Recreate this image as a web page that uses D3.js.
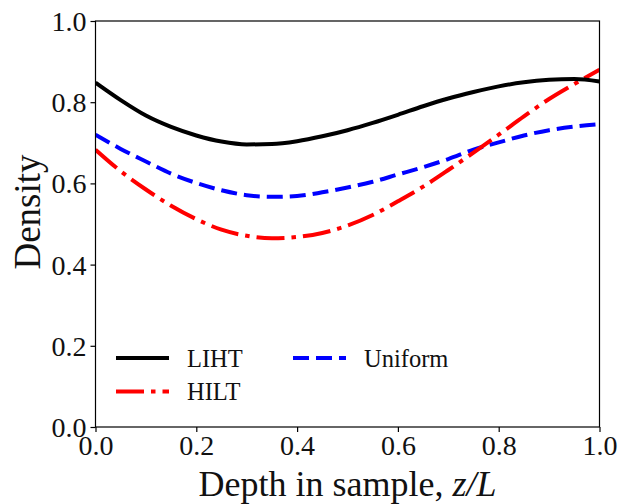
<!DOCTYPE html>
<html>
<head>
<meta charset="utf-8">
<script src="https://cdn.jsdelivr.net/npm/d3@7"></script>
<style>
  html, body { margin: 0; padding: 0; background: #fff; }
  svg { display: block; }
  text { font-family: "Liberation Serif", "Times New Roman", serif; fill: #111; }
</style>
</head>
<body>
<svg id="chart" width="618" height="504"></svg>
<script>
// Depth positions z/L at which densities are sampled
const depth = [0, 0.05, 0.1, 0.15, 0.2, 0.25, 0.3, 0.35, 0.4, 0.45, 0.5,
               0.55, 0.6, 0.65, 0.7, 0.75, 0.8, 0.85, 0.9, 0.95, 1.0];
const lihtVals    = [0.848, 0.805, 0.767, 0.739, 0.718, 0.703, 0.696, 0.697, 0.704, 0.716, 0.731,
                     0.749, 0.769, 0.790, 0.809, 0.825, 0.839, 0.849, 0.855, 0.857, 0.851];
const hiltVals    = [0.683, 0.630, 0.585, 0.545, 0.512, 0.486, 0.471, 0.465, 0.468, 0.478, 0.496,
                     0.522, 0.556, 0.592, 0.633, 0.676, 0.720, 0.765, 0.808, 0.845, 0.880];
const uniformVals = [0.720, 0.685, 0.654, 0.624, 0.601, 0.583, 0.571, 0.567, 0.569, 0.578, 0.590,
                     0.604, 0.622, 0.640, 0.660, 0.683, 0.701, 0.718, 0.731, 0.740, 0.746];
const xTicks = [0, 0.2, 0.4, 0.6, 0.8, 1.0];
const yTicks = [0, 0.2, 0.4, 0.6, 0.8, 1.0];

const svg = d3.select("#chart");
const margin = { left: 95.5, right: 599.5, top: 21, bottom: 427 };

const x = d3.scaleLinear().domain([0, 1]).range([margin.left, margin.right]);
const y = d3.scaleLinear().domain([0, 1]).range([margin.bottom, margin.top]);

const styles = {
  LIHT:    { color: "#000000", dash: null },
  HILT:    { color: "#ff0000", dash: "28,7,4.5,7" },
  Uniform: { color: "#0000ff", dash: "16,7" }
};
const seriesData = { LIHT: lihtVals, HILT: hiltVals, Uniform: uniformVals };

// clip curves to the plotting area
svg.append("defs").append("clipPath").attr("id", "plotClip")
  .append("rect")
  .attr("x", margin.left).attr("y", margin.top)
  .attr("width", margin.right - margin.left).attr("height", margin.bottom - margin.top);

const line = d3.line()
  .x(d => x(d[0]))
  .y(d => y(d[1]))
  .curve(d3.curveMonotoneX);

const plot = svg.append("g").attr("clip-path", "url(#plotClip)");
["Uniform", "HILT", "LIHT"].forEach(name => {
  const pts = depth.map((z, i) => [z, seriesData[name][i]]);
  plot.append("path")
    .datum(pts)
    .attr("d", line)
    .attr("fill", "none")
    .attr("stroke", styles[name].color)
    .attr("stroke-width", 4)
    .attr("stroke-dasharray", styles[name].dash)
    .attr("stroke-linecap", "butt")
    .attr("stroke-linejoin", "round");
});

// frame
svg.append("rect")
  .attr("x", margin.left).attr("y", margin.top)
  .attr("width", margin.right - margin.left).attr("height", margin.bottom - margin.top)
  .attr("fill", "none").attr("stroke", "#000").attr("stroke-width", 1.2);

// axes
const fmt = d3.format(".1f");
const xAxis = svg.append("g")
  .attr("transform", `translate(0,${margin.bottom})`)
  .call(d3.axisBottom(x).tickValues(xTicks).tickFormat(fmt).tickSize(5).tickPadding(3));
const yAxis = svg.append("g")
  .attr("transform", `translate(${margin.left},0)`)
  .call(d3.axisLeft(y).tickValues(yTicks).tickFormat(fmt).tickSize(5).tickPadding(4));
[xAxis, yAxis].forEach(g => {
  g.select(".domain").remove();
  g.selectAll("line").attr("stroke", "#000").attr("stroke-width", 1.2);
  g.selectAll("text")
    .attr("font-family", "'Liberation Serif', serif")
    .attr("font-size", 28)
    .attr("fill", "#111");
});
yAxis.selectAll("text").attr("dy", "0.34em");

// axis titles
const xTitle = svg.append("text")
  .attr("x", (margin.left + margin.right) / 2)
  .attr("y", 496)
  .attr("text-anchor", "middle")
  .attr("font-size", 36);
xTitle.append("tspan").text("Depth in sample, ");
xTitle.append("tspan").attr("font-style", "italic").text("z/L");

svg.append("text")
  .attr("transform", `translate(40,${(margin.top + margin.bottom) / 2 - 12}) rotate(-90)`)
  .attr("text-anchor", "middle")
  .attr("font-size", 37)
  .text("Density");

// legend
const legendItems = [
  { name: "LIHT",    lx: 116, ly: 358 },
  { name: "HILT",    lx: 116, ly: 391.5 },
  { name: "Uniform", lx: 293, ly: 358 }
];
const legend = svg.append("g");
legendItems.forEach(it => {
  legend.append("line")
    .attr("x1", it.lx).attr("x2", it.lx + 53)
    .attr("y1", it.ly).attr("y2", it.ly)
    .attr("stroke", styles[it.name].color)
    .attr("stroke-width", 4)
    .attr("stroke-dasharray", styles[it.name].dash);
  legend.append("text")
    .attr("x", it.lx + 71)
    .attr("y", it.ly)
    .attr("dy", "0.35em")
    .attr("font-size", 24.5)
    .text(it.name);
});
</script>
</body>
</html>
